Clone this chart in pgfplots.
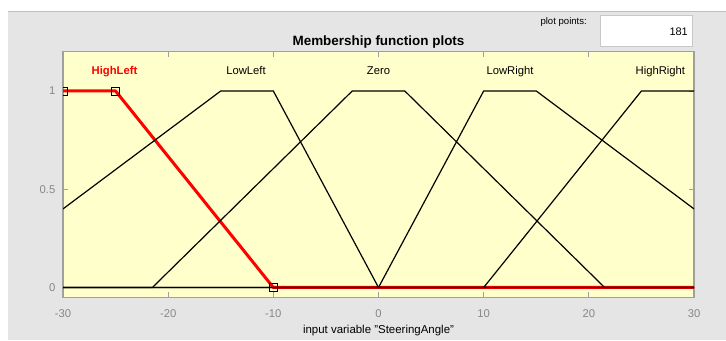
\documentclass[border=0pt]{standalone}
\usepackage{fontspec}
\setmainfont{Liberation Sans}
\usepackage{pgfplots}
\pgfplotsset{compat=1.18}

\definecolor{panelgray}{RGB}{229,229,229}
\definecolor{paneledge}{RGB}{190,190,190}
\definecolor{plotbg}{RGB}{255,255,204}
\definecolor{axisgray}{RGB}{160,160,160}
\definecolor{tickgray}{RGB}{135,135,135}
\definecolor{boxedge}{RGB}{200,200,200}

\begin{document}
\begin{tikzpicture}[x=1bp,y=1bp]
  \path[use as bounding box] (0,0) rectangle (726,340);
  \fill[white] (0,0) rectangle (726,340);
  \fill[panelgray] (8,0) rectangle (726,329);
  \draw[paneledge, line width=0.8bp] (8,329) -- (726,329);

  % plot points field
  \node[anchor=base east, font=\fontsize{9.6}{10}\selectfont, inner sep=0] at (587,316) {plot points:};
  \filldraw[fill=white, draw=boxedge, line width=0.8bp] (600,293.5) rectangle (692,325);
  \node[anchor=base east, font=\fontsize{11}{12}\selectfont, inner sep=0] at (688,305) {181};

  % title
  \node[anchor=base, font=\fontsize{13.5}{14}\selectfont\bfseries, inner sep=0] at (378.5,294.3) {Membership function plots};

  \begin{axis}[
    at={(63bp,42.7bp)}, anchor=south west,
    width=631bp, height=245.6bp, scale only axis,
    xmin=-30, xmax=30, ymin=-0.05, ymax=1.2,
    axis background/.style={fill=plotbg},
    axis line style={draw=axisgray, line width=1.2bp},
    xtick={-30,-20,-10,0,10,20,30},
    xticklabels={-30,-20,-10,0,10,20,30},
    ytick={0,0.5,1},
    yticklabels={0,0.5,1},
    tick align=inside,
    major tick length=5bp,
    tick style={draw=axisgray, line width=0.8bp},
    xtick pos=both, ytick pos=both,
    ticklabel style={font=\fontsize{11.3}{12}\selectfont, text=tickgray},
    xticklabel style={anchor=base, inner sep=0, yshift=-19.7bp},
    yticklabel style={anchor=east, inner sep=0, xshift=-7.5bp},
    clip marker paths=true,
    xlabel={}, ylabel={},
  ]
    % HighLeft (selected)
    \addplot[red, line width=3bp, line join=round] coordinates {(-30,1) (-25,1) (-10,0) (30,0)};
    % LowLeft
    \addplot[black, line width=1.2bp] coordinates {(-30,0.4) (-15,1) (-10,1) (0,0) (30,0)};
    % Zero
    \addplot[black, line width=1.2bp] coordinates {(-30,0) (-21.5,0) (-2.5,1) (2.5,1) (21.5,0) (30,0)};
    % LowRight
    \addplot[black, line width=1.2bp] coordinates {(-30,0) (0,0) (10,1) (15,1) (30,0.4)};
    % HighRight
    \addplot[black, line width=1.2bp] coordinates {(-30,0) (10,0) (25,1) (30,1)};
    % handles of the selected function
    \addplot[only marks, mark=square, mark size=4bp, mark options={draw=black, fill=none, line width=0.8bp}]
      coordinates {(-30,1) (-25,1) (-10,0)};

    \node[anchor=base, text=red, font=\fontsize{11.3}{12}\selectfont\bfseries, inner sep=0] at (axis cs:-25.1,1.085) {HighLeft};
    \node[anchor=base, font=\fontsize{11.3}{12}\selectfont, inner sep=0] at (axis cs:-12.6,1.085) {LowLeft};
    \node[anchor=base, font=\fontsize{11.3}{12}\selectfont, inner sep=0] at (axis cs:0,1.085) {Zero};
    \node[anchor=base, font=\fontsize{11.3}{12}\selectfont, inner sep=0] at (axis cs:12.5,1.085) {LowRight};
    \node[anchor=base, font=\fontsize{11.3}{12}\selectfont, inner sep=0] at (axis cs:26.8,1.085) {HighRight};
  \end{axis}

  \node[anchor=base, font=\fontsize{11.5}{12}\selectfont, inner sep=0] at (378.5,6.5) {input variable "SteeringAngle"};
\end{tikzpicture}
\end{document}
